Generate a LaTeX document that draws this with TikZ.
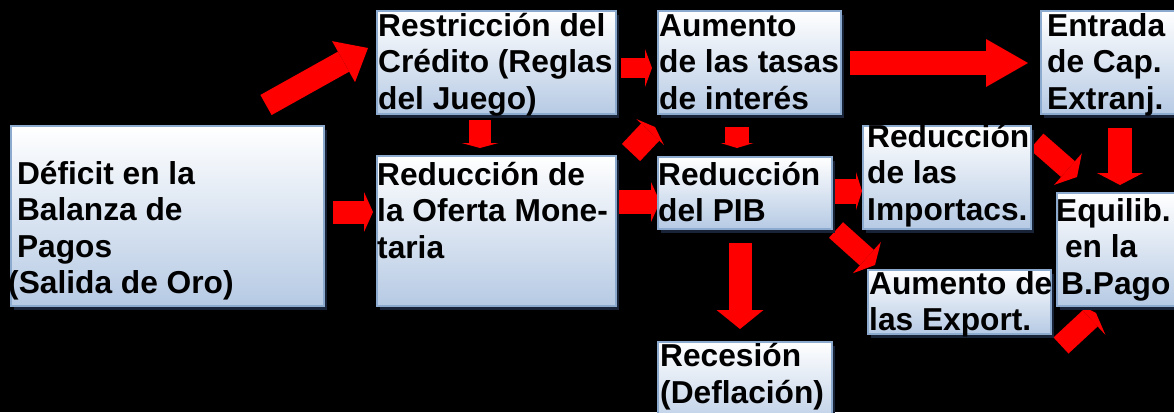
\documentclass[tikz,border=0pt]{standalone}
\usepackage{fontspec}
\setmainfont{Liberation Sans}
\usetikzlibrary{arrows.meta,shadows}
\definecolor{boxline}{RGB}{140,170,205}
\definecolor{boxbot}{RGB}{182,202,228}
\definecolor{boxshadow}{RGB}{25,35,55}
\definecolor{arrowred}{RGB}{255,0,0}
\tikzset{
  box/.style={rectangle, draw=boxline, line width=2pt, top color=white, bottom color=boxbot,
    inner sep=0pt, anchor=north west,
    drop shadow={fill=boxshadow, opacity=1, shadow xshift=3pt, shadow yshift=-4pt}},
  txt/.style={anchor=base west, inner sep=0pt, align=left, text=black,
    font=\bfseries\fontsize{31.7}{36.5}\selectfont},
  rarrow/.style n args={3}{draw=arrowred, line width=#1,
    -{Triangle[length=#3,width=#2,line width=0pt]}}
}
\newcommand{\lsp}{\hspace*{0.278em}}
\begin{document}
\begin{tikzpicture}[x=1pt,y=-1pt]
\useasboundingbox (0,0) rectangle (1174,412);
\clip (0,0) rectangle (1174,412);
\fill[black] (0,0) rectangle (1174,412);

% arrow coordinates
\coordinate (a1s) at (266,105);   \coordinate (a1e) at (368,48);
\coordinate (a2s) at (480,120);   \coordinate (a2e) at (480,148);
\coordinate (a3s) at (333,212);   \coordinate (a3e) at (373,212);
\coordinate (a4s) at (621,68);    \coordinate (a4e) at (652,68);
\coordinate (a5s) at (631,152.5); \coordinate (a5e) at (655,127);
\coordinate (a6s) at (850,63);    \coordinate (a6e) at (1028,63);
\coordinate (a7s) at (737,127);   \coordinate (a7e) at (737,148);
\coordinate (a8s) at (618,202);   \coordinate (a8e) at (660,202);
\coordinate (a9s) at (831,191);   \coordinate (a9e) at (862,191);
\coordinate (a10s) at (836,230);  \coordinate (a10e) at (875,265);
\coordinate (a11s) at (1036.5,141.5); \coordinate (a11e) at (1077,177);
\coordinate (a12s) at (1120,128); \coordinate (a12e) at (1120,185);
\coordinate (a13s) at (1061,345.5); \coordinate (a13e) at (1096,313);
\coordinate (a14s) at (740,243);  \coordinate (a14e) at (740,329);

\draw[rarrow={23pt}{47pt}{28pt}] (a1s) -- (a1e);
\draw[rarrow={22pt}{37pt}{5pt}] (a2s) -- (a2e);
\draw[rarrow={23pt}{40pt}{9pt}] (a3s) -- (a3e);
\draw[rarrow={20pt}{38pt}{7pt}] (a4s) -- (a4e);
\draw[rarrow={25pt}{38pt}{7pt}] (a5s) -- (a5e);
\draw[rarrow={23pt}{48pt}{42pt}] (a6s) -- (a6e);
\draw[rarrow={24pt}{33pt}{5pt}] (a7s) -- (a7e);
\draw[rarrow={24pt}{40pt}{9pt}] (a8s) -- (a8e);
\draw[rarrow={25pt}{38pt}{6pt}] (a9s) -- (a9e);
\draw[rarrow={21pt}{42pt}{11pt}] (a10s) -- (a10e);
\draw[rarrow={21pt}{42pt}{12pt}] (a11s) -- (a11e);
\draw[rarrow={24pt}{46pt}{12pt}] (a12s) -- (a12e);
\draw[rarrow={22pt}{45pt}{8pt}] (a13s) -- (a13e);
\draw[rarrow={23pt}{47pt}{19pt}] (a14s) -- (a14e);

% boxes
\node[box, minimum width=313pt, minimum height=180pt] (b1) at (10,125) {};
\node[box, minimum width=239pt, minimum height=103pt] (b2) at (376,10) {};
\node[box, minimum width=239pt, minimum height=150pt] (b3) at (376,155) {};
\node[box, minimum width=183pt, minimum height=103pt] (b4) at (657,10) {};
\node[box, minimum width=150pt, minimum height=103pt] (b5) at (1040,10) {};
\node[box, minimum width=174pt, minimum height=72pt] (b6) at (657,156) {};
\node[box, minimum width=168pt, minimum height=103pt] (b7) at (862,125) {};
\node[box, minimum width=183pt, minimum height=64pt] (b8) at (867,269) {};
\node[box, minimum width=130pt, minimum height=113pt] (b9) at (1056,192) {};
\node[box, minimum width=174pt, minimum height=90pt] (b10) at (657,341) {};

% texts (anchored at the baseline of the last line)
\node[txt] (t1) at (8,293.5) {\lsp Déficit en la\\\lsp Balanza de\\\lsp Pagos\\(Salida de Oro)};
\node[txt] (t2) at (378,109) {Restricción del\\Crédito (Reglas\\del Juego)};
\node[txt] (t3) at (377,258) {Reducción de\\la Oferta Mone-\\taria};
\node[txt] (t4) at (659,109) {Aumento\\de las tasas\\de interés};
\node[txt] (t5) at (1047,109) {Entrada\\de Cap.\\Extranj.};
\node[txt] (t6) at (658,221.5) {Reducción\\del PIB};
\node[txt] (t7) at (867,220) {Reducción\\de las\\Importacs.};
\node[txt] (t8) at (869,330.5) {Aumento de\\las Export.};
\node[txt] (t9) at (1056,294) {Equilib.\\\lsp en la\\\hspace*{5pt}B.Pago};
\node[txt] (t10) at (660,403) {Recesión\\(Deflación)};
\end{tikzpicture}
\end{document}
